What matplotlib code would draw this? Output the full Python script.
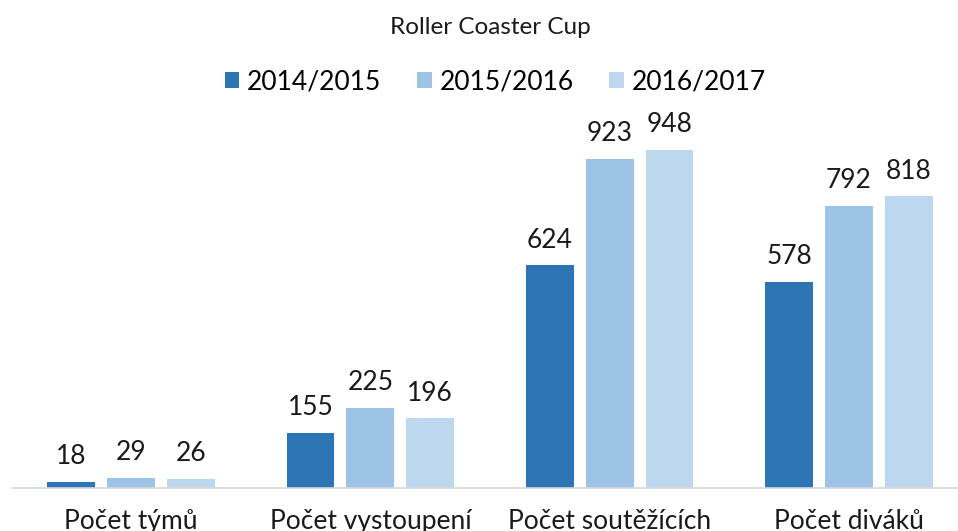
import matplotlib
matplotlib.use("Agg")
import matplotlib.pyplot as plt
import numpy as np

plt.rcParams['font.family'] = ['Lato', 'DejaVu Sans']

categories = ["Počet týmů", "Počet vystoupení", "Počet soutěžících", "Počet diváků"]
seasons = ["2014/2015", "2015/2016", "2016/2017"]
values = {
    "2014/2015": [18, 155, 624, 578],
    "2015/2016": [29, 225, 923, 792],
    "2016/2017": [26, 196, 948, 818],
}
colors = ["#2E75B6", "#9DC3E6", "#BDD7EE"]

fig = plt.figure(figsize=(9.58, 5.31), dpi=100)
ax = fig.add_axes([11.5 / 958, 43 / 531, 957 / 958, 388 / 531])

x = np.arange(len(categories))
offsets = [-0.25, 0, 0.25]
for s, off, c in zip(seasons, offsets, colors):
    bars = ax.bar(x + off, values[s], width=0.2, color=c, label=s, zorder=2)
    for b, v in zip(bars, values[s]):
        ax.annotate(str(v), (b.get_x() + b.get_width() / 2, v),
                    xytext=(0, 18), textcoords="offset points",
                    ha="center", va="center", fontsize=19, color="#1a1a1a")

ax.set_xlim(-0.5, 3.5)
ax.set_ylim(0, 1088)
ax.set_yticks([])
ax.set_xticks(x)
ax.set_xticklabels(categories, fontsize=19, color="#1a1a1a")
ax.tick_params(axis="x", length=0, pad=15)
for sp in ["top", "right", "left"]:
    ax.spines[sp].set_visible(False)
ax.spines["bottom"].set_color("#D9D9D9")
ax.spines["bottom"].set_linewidth(1.2)

fig.text(0.512, 1 - 27 / 531, "Roller Coaster Cup", ha="center", va="center",
         fontsize=17.5, color="#1a1a1a")
fig.legend(loc="center", bbox_to_anchor=(0.517, 1 - 82 / 531), ncol=3, frameon=False,
           fontsize=19, handlelength=0.55, handleheight=0.55, handletextpad=0.3,
           columnspacing=1.35)

fig.savefig("out.png", dpi=100)
